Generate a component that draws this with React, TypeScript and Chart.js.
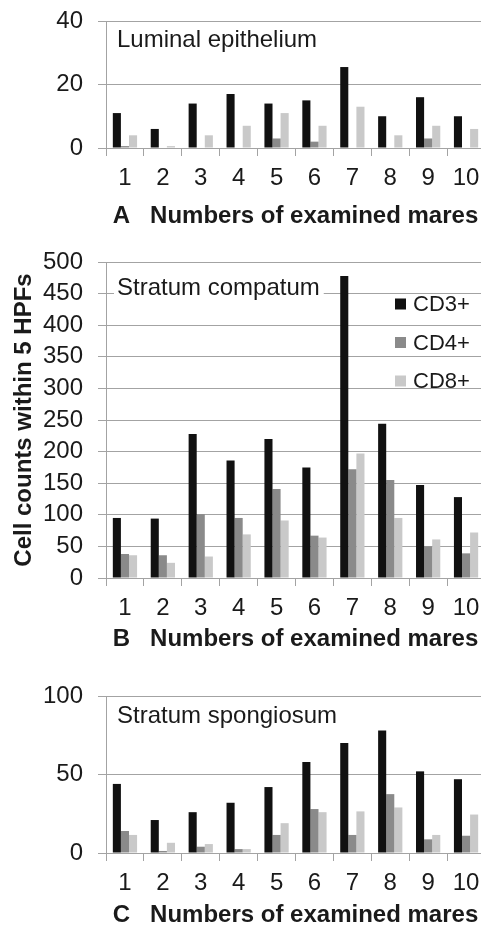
import React, { useEffect, useRef } from "react";
import { Chart, registerables } from "chart.js";

Chart.register(...registerables);

const FONT = '"Liberation Sans", Arial, Helvetica, sans-serif';
const TEXT = "#1a1a1a";
const GRID = "#a3a3a3";

const mares = ["1", "2", "3", "4", "5", "6", "7", "8", "9", "10"];
const seriesNames = ["CD3+", "CD4+", "CD8+"];
const seriesColors = ["#111111", "#8a8a8a", "#c9c9c9"];

const luminalCD3 = [11, 6, 14, 17, 14, 15, 25.5, 10, 16, 10];
const luminalCD4 = [0.6, 0, 0, 0, 3, 2, 0, 0, 3, 0];
const luminalCD8 = [4, 0.6, 4, 7, 11, 7, 13, 4, 7, 6];
const luminalTicks = [0, 20, 40];

const compatumCD3 = [95, 94, 228, 186, 220, 175, 478, 244, 147, 128];
const compatumCD4 = [38, 36, 101, 95, 141, 67, 172, 155, 50, 39];
const compatumCD8 = [36, 24, 34, 69, 91, 64, 197, 95, 61, 72];
const compatumTicks = [0, 50, 100, 150, 200, 250, 300, 350, 400, 450, 500];

const spongiosumCD3 = [44, 21, 26, 32, 42, 58, 70, 78, 52, 47];
const spongiosumCD4 = [14, 1.3, 4, 2.5, 11.5, 28, 11.5, 37.5, 8.7, 11];
const spongiosumCD8 = [11.5, 6.5, 5.7, 2.5, 19, 26, 26.5, 29, 11.5, 24.5];
const spongiosumTicks = [0, 50, 100];

const yAxisTitle = "Cell counts within 5 HPFs";
const xTitleA = "A   Numbers of examined mares";
const xTitleB = "B   Numbers of examined mares";
const xTitleC = "C   Numbers of examined mares";

type PanelProps = {
  height: number;
  series: number[][];
  ticks: number[];
  label: string;
  labelBaseline: number;
  labelBg: boolean;
  xTitle: string;
  yTitle?: string;
  showLegend: boolean;
  padTop: number;
  xHeight: number;
  xTitlePadBottom: number;
};

function Panel(p: PanelProps) {
  const ref = useRef<HTMLCanvasElement | null>(null);
  useEffect(() => {
    if (!ref.current) return;
    const textPlugin = {
      id: "panelText",
      beforeDatasetsDraw(chart: any) {
        const ctx = chart.ctx;
        const area = chart.chartArea;
        ctx.save();
        ctx.font = `24px ${FONT}`;
        const x = area.left + 11;
        const y = area.top + p.labelBaseline;
        if (p.labelBg) {
          const w = ctx.measureText(p.label).width;
          ctx.fillStyle = "#ffffff";
          ctx.fillRect(x - 3, y - 20, w + 7, 26);
        }
        ctx.fillStyle = TEXT;
        ctx.textBaseline = "alphabetic";
        ctx.textAlign = "left";
        ctx.fillText(p.label, x, y);
        ctx.restore();
      },
      afterDatasetsDraw(chart: any) {
        if (!p.showLegend) return;
        const ctx = chart.ctx;
        const area = chart.chartArea;
        ctx.save();
        ctx.font = `22px ${FONT}`;
        ctx.textBaseline = "middle";
        ctx.textAlign = "left";
        seriesNames.forEach((name, i) => {
          const cy = area.top + 42 + i * 38.5;
          const bx = area.right - 90;
          ctx.fillStyle = seriesColors[i];
          ctx.fillRect(bx, cy - 5.5, 11, 11);
          ctx.fillStyle = TEXT;
          ctx.fillText(name, bx + 18, cy + 1);
        });
        ctx.restore();
      },
    };
    const chart = new Chart(ref.current, {
      type: "bar",
      data: {
        labels: mares,
        datasets: p.series.map((d, i) => ({
          label: seriesNames[i],
          data: d,
          backgroundColor: seriesColors[i],
          borderWidth: 0,
          categoryPercentage: 0.64,
          barPercentage: 1,
        })),
      },
      options: {
        animation: false,
        responsive: false,
        layout: { padding: { top: p.padTop, right: 4, bottom: 0, left: 0 } },
        plugins: {
          legend: { display: false },
          tooltip: { enabled: false },
        },
        scales: {
          x: {
            grid: {
              display: true,
              drawOnChartArea: false,
              drawTicks: true,
              tickLength: 8,
              color: GRID,
              offset: true,
            },
            border: { display: true, color: GRID },
            ticks: { font: { size: 24, family: FONT }, color: TEXT, padding: 8, maxRotation: 0, autoSkip: false },
            title: {
              display: true,
              text: p.xTitle,
              font: { size: 24, weight: "bold", family: FONT },
              color: TEXT,
              padding: { top: 0, bottom: p.xTitlePadBottom },
            },
            afterFit: (s: any) => {
              s.height = p.xHeight;
            },
          },
          y: {
            min: p.ticks[0],
            max: p.ticks[p.ticks.length - 1],
            afterBuildTicks: (s: any) => {
              s.ticks = p.ticks.map((v) => ({ value: v }));
            },
            ticks: { font: { size: 24, family: FONT }, color: TEXT, padding: 15, autoSkip: false },
            grid: { color: GRID, tickLength: 8 },
            border: { display: true, color: GRID },
            title: {
              display: !!p.yTitle,
              text: p.yTitle || "",
              font: { size: 24, weight: "bold", family: FONT },
              color: TEXT,
              padding: { top: 2, bottom: 0 },
            },
            afterFit: (s: any) => {
              s.width = 98;
              s.paddingTop = 0;
              s.paddingBottom = 0;
            },
          },
        },
      },
      plugins: [textPlugin],
    } as any);
    return () => chart.destroy();
  }, []);
  return (
    <canvas ref={ref} width={481} height={p.height} style={{ display: "block", width: 481, height: p.height }} />
  );
}

export default function App() {
  return (
    <div style={{ width: 481, background: "#fff" }}>
      <Panel
        height={224}
        series={[luminalCD3, luminalCD4, luminalCD8]}
        ticks={luminalTicks}
        label="Luminal epithelium"
        labelBaseline={26}
        labelBg={false}
        xTitle={xTitleA}
        showLegend={false}
        padTop={13}
        xHeight={84}
        xTitlePadBottom={1}
      />
      <Panel
        height={426}
        series={[compatumCD3, compatumCD4, compatumCD8]}
        ticks={compatumTicks}
        label="Stratum compatum"
        labelBaseline={33}
        labelBg={true}
        xTitle={xTitleB}
        yTitle={yAxisTitle}
        showLegend={true}
        padTop={30}
        xHeight={80}
        xTitlePadBottom={4}
      />
      <Panel
        height={272}
        series={[spongiosumCD3, spongiosumCD4, spongiosumCD8]}
        ticks={spongiosumTicks}
        label="Stratum spongiosum"
        labelBaseline={27}
        labelBg={false}
        xTitle={xTitleC}
        showLegend={false}
        padTop={38}
        xHeight={77}
        xTitlePadBottom={0}
      />
    </div>
  );
}
